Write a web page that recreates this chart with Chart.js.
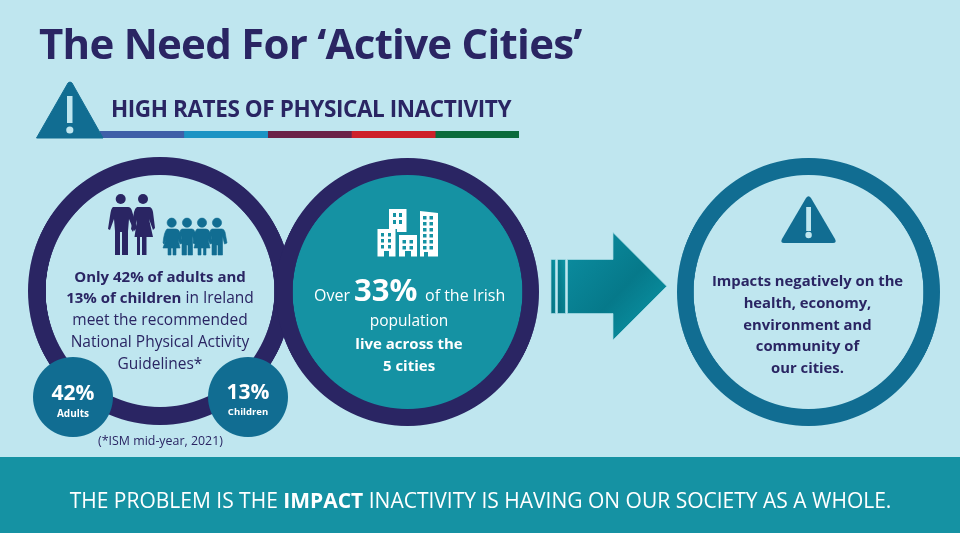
<!DOCTYPE html>
<html><head><meta charset="utf-8">
<script src="https://cdn.jsdelivr.net/npm/chart.js@4"></script>
<style>
html,body{margin:0;padding:0;background:#BFE6EF;overflow:hidden}
#stage{position:relative;width:960px;height:533px;background:#BFE6EF;overflow:hidden;font-family:"Open Sans",sans-serif;color:#2A2563}
#stage canvas{position:absolute}
#banner{position:absolute;left:0;top:457px;width:960px;height:76px;background:#1592A3}
.t{position:absolute;white-space:nowrap;transform:translate(-50%,-50%);line-height:1}
.l{position:absolute;white-space:nowrap;transform:translateY(-50%);line-height:1}
svg{position:absolute;left:0;top:0;width:960px;height:533px;pointer-events:none}
b{font-weight:700}
</style></head>
<body><div id="stage">
<div id="banner"></div>
<div id="rings"></div>
<svg viewBox="0 0 960 533">
  <defs>
    <linearGradient id="ag" x1="0.1" y1="0.1" x2="0.9" y2="0.9">
      <stop offset="0" stop-color="#0B8B9E"/><stop offset="0.55" stop-color="#06798A"/><stop offset="1" stop-color="#0A93A4"/>
    </linearGradient>
    <linearGradient id="ag2" x1="0" y1="1" x2="1" y2="0">
      <stop offset="0" stop-color="#056E80"/><stop offset="0.5" stop-color="#08808F"/><stop offset="1" stop-color="#0C97A8"/>
    </linearGradient>
  </defs>
  <!-- heading triangle -->
  <path d="M68 83 Q70 81 72 83 L103 138 L36.5 138 Z" fill="#116D92" stroke="#116D92" stroke-linejoin="round"/>
  <rect x="67" y="96" width="5.5" height="27" fill="#BFE6EF"/>
  <circle cx="69.8" cy="130" r="3.6" fill="#BFE6EF"/>
  <!-- adults -->
  <g fill="#2A2563">
    <circle cx="120.7" cy="199" r="5"/>
    <path d="M113 207 H128 Q131 207 132 211 L137 228 L134 231 L129 219 L128 231 V255 H122 V232 H120 V255 H115 V231 L114 219 L110 230 L108 229 L110 216 Q111 208 113 207 Z"/>
    <circle cx="143" cy="199" r="5"/>
    <path d="M137 207 H149 Q152 207 153 212 L155 228 L153 230 L149 219 L153 237 H146.5 V255 H142 V237 H140 V255 H137 V237 H134.5 L137 220 L133 232 L131 229 L134 212 Q135 208 137 207 Z"/>
  </g>
  <!-- children -->
  <g fill="#116D92" stroke="#116D92" stroke-width="0.6">
    <circle cx="171.7" cy="222.7" r="4.6"/>
    <path d="M167 229 H176 Q179 229 180 233 L183 243 L180 244 L178 239 L180 248 H176 V255 H173 V248 H171 V255 H168 V248 H163 L166 239 L164 244 L163 243 Q164 232 167 229 Z"/>
    <circle cx="187" cy="222.7" r="4.6"/>
    <path d="M182 229 H192 Q194 229 195 232 L198 243 L195 244 L192.5 236 V255 H188 V245 H186.5 V255 H182 V236 L180 240 L178 238 L180 232 Q180.5 229 182 229 Z"/>
    <circle cx="202" cy="222.7" r="4.6"/>
    <path d="M197 229 H206 Q209 229 210 233 L213 243 L210 244 L208 239 L210 248 H206 V255 H203.5 V248 H201 V255 H198 V248 H194 L196.5 239 L194.5 244 L193 243 Q194 232 197 229 Z"/>
    <circle cx="217" cy="222.7" r="4.6"/>
    <path d="M212 229 H222 Q224 229 225 232 L227 243 L224.5 244 L222.5 236 V255 H218 V245 H216.5 V255 H212 V236 L210 240 L208 238 L210 232 Q210.5 229 212 229 Z"/>
  </g>
  <!-- buildings -->
  <g fill="#fff" id="bld">
    <path fill-rule="evenodd" d="M389 209 H406.5 V232 H397 V229 H389 Z M393 213 v4 h3 v-4z M399 213 v4 h3 v-4z M393 220 v4 h3 v-4z M399 220 v4 h3 v-4z"/>
    <path fill-rule="evenodd" d="M420 211 L438 213 V256.5 H428 V252 H424 V256.5 H420 Z M423 216 v3.5 h3.5 v-3.5z M429.5 216 v3.5 h3.5 v-3.5z M423 222 v3.5 h3.5 v-3.5z M429.5 222 v3.5 h3.5 v-3.5z M423 228 v3.5 h3.5 v-3.5z M429.5 228 v3.5 h3.5 v-3.5z M423 234 v3.5 h3.5 v-3.5z M429.5 234 v3.5 h3.5 v-3.5z M423 240 v3.5 h3.5 v-3.5z M429.5 240 v3.5 h3.5 v-3.5z M423 246 v3.5 h3.5 v-3.5z M429.5 246 v3.5 h3.5 v-3.5z"/>
    <path fill-rule="evenodd" d="M377.5 229 H395.5 V256.5 H389 V251 H384 V256.5 H377.5 Z M381 233 v3.5 h3 v-3.5z M388 233 v3.5 h3 v-3.5z M381 239 v3.5 h3 v-3.5z M388 239 v3.5 h3 v-3.5z M381 245 v3.5 h3 v-3.5z M388 245 v3.5 h3 v-3.5z"/>
    <path fill-rule="evenodd" d="M399 235 H417 V256.5 H411 V251 H405 V256.5 H399 Z M402.5 240 v3.5 h3.5 v-3.5z M409.5 240 v3.5 h3.5 v-3.5z M402.5 246 v3.5 h3.5 v-3.5z M409.5 246 v3.5 h3.5 v-3.5z"/>
  </g>
  <!-- arrow -->
  <g stroke="#A9DCE6" stroke-width="0.7">
    <rect x="551" y="259.5" width="4.5" height="54" fill="url(#ag2)"/>
    <rect x="557.5" y="259.5" width="8" height="54" fill="url(#ag2)"/>
    <path d="M567.5 259.5 H613 V232.5 L666.7 286.3 L613 340 V313.5 H567.5 Z" fill="url(#ag)"/>
  </g>
  <!-- right triangle -->
  <path d="M806 198 Q808.5 194.5 811 198 L835 239 Q837 243 833 243 H784 Q780 243 782 239 Z" fill="#116D92"/>
  <rect x="806.2" y="207" width="4.8" height="24" fill="#BFE6EF"/>
  <circle cx="808.6" cy="235" r="3.2" fill="#BFE6EF"/>
</svg>
<div id="texts"></div>
</div>
<script>
// values
const adultsPercent = 42;
const childrenPercent = 13;
const citiesPercent = 33;
const stripSegments = [1, 1, 1, 1, 1];
const stripColours = ['#3F5FA8', '#1B94C4', '#6B2248', '#CE2029', '#0A6B3C'];
const wholeRing = [100];

Chart.defaults.font.family = '"Open Sans", sans-serif';
const ringsHost = document.getElementById('rings');

function addCanvas(left, top, w, h) {
  const c = document.createElement('canvas');
  c.style.left = left + 'px'; c.style.top = top + 'px';
  c.width = w; c.height = h;
  ringsHost.appendChild(c);
  return c;
}
function disc(cx, cy, r, thickness, ringColour, fillColour, width) {
  const w = width || 2 * r;
  const c = addCanvas(cx - w / 2, cy - r, 2 * r, 2 * r);
  new Chart(c, {
    type: 'doughnut',
    data: { labels: ['ring'], datasets: [
      { data: wholeRing, backgroundColor: [ringColour], borderWidth: 0 }
    ] },
    options: { responsive: false, animation: false, devicePixelRatio: 2,
      cutout: thickness ? (r - thickness) : 0,
      plugins: { legend: { display: false }, tooltip: { enabled: false } },
      layout: { padding: 0 } },
    plugins: fillColour ? [{ id: 'inner', beforeDatasetsDraw(ch) {
      const g = ch.ctx; g.save(); g.fillStyle = fillColour; g.beginPath();
      g.arc(r, r, r - thickness + 0.5, 0, Math.PI * 2); g.fill(); g.restore();
    } }] : []
  });
  c.style.width = w + 'px'; c.style.height = 2 * r + 'px';
}
disc(160, 291, 134, 18, '#2A2563', null, 264);
disc(407.5, 292, 134, 17, '#2A2563', '#1592A3', 263);
disc(808.5, 292, 134, 17, '#116D92', null, 263);
disc(73, 397, 40, 0, '#116D92', null);
disc(248, 397, 40, 0, '#116D92', null);

// strip under the heading
const strip = addCanvas(100, 131, 419, 7);
new Chart(strip, {
  type: 'bar',
  data: { labels: ['strip'], datasets: stripSegments.map((v, i) => ({
    data: [v], backgroundColor: stripColours[i], borderWidth: 0,
    barPercentage: 1, categoryPercentage: 1 })) },
  options: { indexAxis: 'y', responsive: false, animation: false,
    layout: { padding: 0 },
    scales: { x: { display: false, stacked: true, min: 0, max: stripSegments.length },
              y: { display: false, stacked: true } },
    plugins: { legend: { display: false }, tooltip: { enabled: false } } }
});

const T = document.getElementById('texts');
function txt(html, x, y, size, opt = {}) {
  const d = document.createElement('div');
  d.className = opt.left ? 'l' : 't';
  d.innerHTML = html;
  d.style.left = x + 'px'; d.style.top = y + 'px';
  d.style.fontSize = size + 'px';
  d.style.fontWeight = opt.weight || 400;
  if (opt.color) d.style.color = opt.color;
  if (opt.ls) d.style.letterSpacing = opt.ls + 'px';
  T.appendChild(d);
}
txt('The Need For ‘Active Cities’', 39, 42.5, 42, { left: 1, weight: 700, ls: -0.75 });
txt('HIGH RATES OF PHYSICAL INACTIVITY', 111, 108.5, 22.5, { left: 1, weight: 700, ls: -0.4 });

txt('Only ' + adultsPercent + '% of adults and', 160, 276, 15, { weight: 700 });
txt('<b style="font-size:15px">' + childrenPercent + '% of children</b> in Ireland', 160, 298, 15.5);
txt('meet the recommended', 160, 320, 15.5);
txt('National Physical Activity', 160, 342, 15.5);
txt('Guidelines*', 160, 364, 15.5);

txt(adultsPercent + '%', 73, 392, 21, { weight: 700, color: '#fff' });
txt('Adults', 73, 413, 10, { weight: 700, color: '#fff' });
txt(childrenPercent + '%', 248, 391, 21, { weight: 700, color: '#fff' });
txt('Children', 248, 412, 9.5, { weight: 700, color: '#fff' });
txt('(*ISM mid-year, 2021)', 160.5, 441, 12.4);

txt('Over', 314, 295, 16, { left: 1, color: '#fff' });
txt(citiesPercent + '%', 354, 289, 31, { left: 1, weight: 700, color: '#fff' });
txt('of the Irish', 425, 295, 16, { left: 1, color: '#fff' });
txt('population', 409, 321, 15.5, { color: '#fff' });
txt('live across the', 409, 343, 15, { weight: 700, color: '#fff' });
txt('5 cities', 409, 365, 15, { weight: 700, color: '#fff' });

txt('Impacts negatively on the', 807.5, 280, 14.8, { weight: 700 });
txt('health, economy,', 807.5, 302, 14.8, { weight: 700 });
txt('environment and', 807.5, 324, 14.8, { weight: 700 });
txt('community of', 807.5, 345, 14.8, { weight: 700 });
txt('our cities.', 807.5, 367, 14.8, { weight: 700 });

txt('THE PROBLEM IS THE <b>IMPACT</b> INACTIVITY IS HAVING ON OUR SOCIETY AS A WHOLE.', 480.5, 500, 21, { color: '#fff' });
</script>
</body></html>
